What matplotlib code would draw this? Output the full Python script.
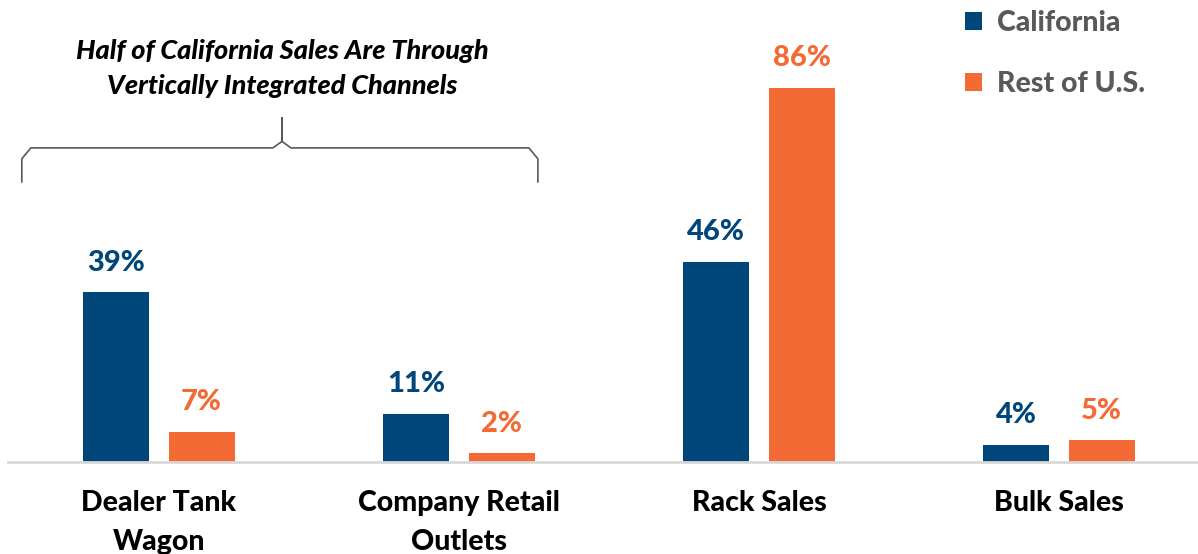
import matplotlib
matplotlib.use("Agg")
import matplotlib.pyplot as plt
import numpy as np

categories = ["Dealer Tank\nWagon", "Company Retail\nOutlets", "Rack Sales", "Bulk Sales"]
california = [39, 11, 46, 4]
rest_of_us = [7, 2, 86, 5]
series_names = ["California", "Rest of U.S."]
annotation = "Half of California Sales Are Through\nVertically Integrated Channels"

NAVY = "#00467A"
ORANGE = "#F46A35"
GRAY = "#595959"

plt.rcParams['font.family'] = ['Lato', 'DejaVu Sans']

fig = plt.figure(figsize=(11.98, 5.54), dpi=100)
ax = fig.add_axes([8/1198, (554-462)/554, 1 - 8/1198, 462/554])

x = np.arange(len(categories))
w = 0.22
off = 0.142
b1 = ax.bar(x - off, california, w, color=NAVY, label=series_names[0])
b2 = ax.bar(x + off, rest_of_us, w, color=ORANGE, label=series_names[1])

for bars, vals, col in ((b1, california, NAVY), (b2, rest_of_us, ORANGE)):
    for r, v in zip(bars, vals):
        ax.annotate(f"{v}%", (r.get_x() + r.get_width()/2, r.get_height()),
                    xytext=(0, 12), textcoords="offset points", ha="center", va="bottom",
                    fontsize=21, fontweight="black", color=col)

ax.set_xlim(-0.503, 3.463)
ax.set_ylim(0, 106.2)
for s in ["top", "right", "left"]:
    ax.spines[s].set_visible(False)
ax.spines["bottom"].set_color("#D9D9D9")
ax.spines["bottom"].set_linewidth(2)
ax.set_yticks([])
ax.set_xticks(x)
ax.set_xticklabels(categories, fontsize=20.5, fontweight="black", color="black", linespacing=1.65)
ax.tick_params(axis="x", length=0, pad=20)

# brace
bx0, bx1, tip = -0.457, 1.263, 0.41
yh, ytip, yend = 72.2, 79.1, 64.4
r = 0.03
ax.plot([bx0, bx0, bx0 + r, tip - r, tip, tip, tip, tip + r, bx1 - r, bx1, bx1],
        [yend, yh - 2.5, yh, yh, yh + 1.5, ytip, yh + 1.5, yh, yh, yh - 2.5, yend],
        color=GRAY, lw=1.2, clip_on=False, solid_joinstyle="round")

ax.text(0.41, 90.5, annotation, ha="center", va="center", fontsize=19.5,
        fontweight="black", style="italic", color="black", linespacing=1.55)

leg = ax.legend(loc="upper left", bbox_to_anchor=(0.783, 1.033), frameon=False,
                handlelength=0.6, handleheight=0.6, handletextpad=0.5,
                labelspacing=1.23, prop={"weight": "black", "size": 20.5})
for t in leg.get_texts():
    t.set_color(GRAY)

fig.savefig("out.png", dpi=100)
